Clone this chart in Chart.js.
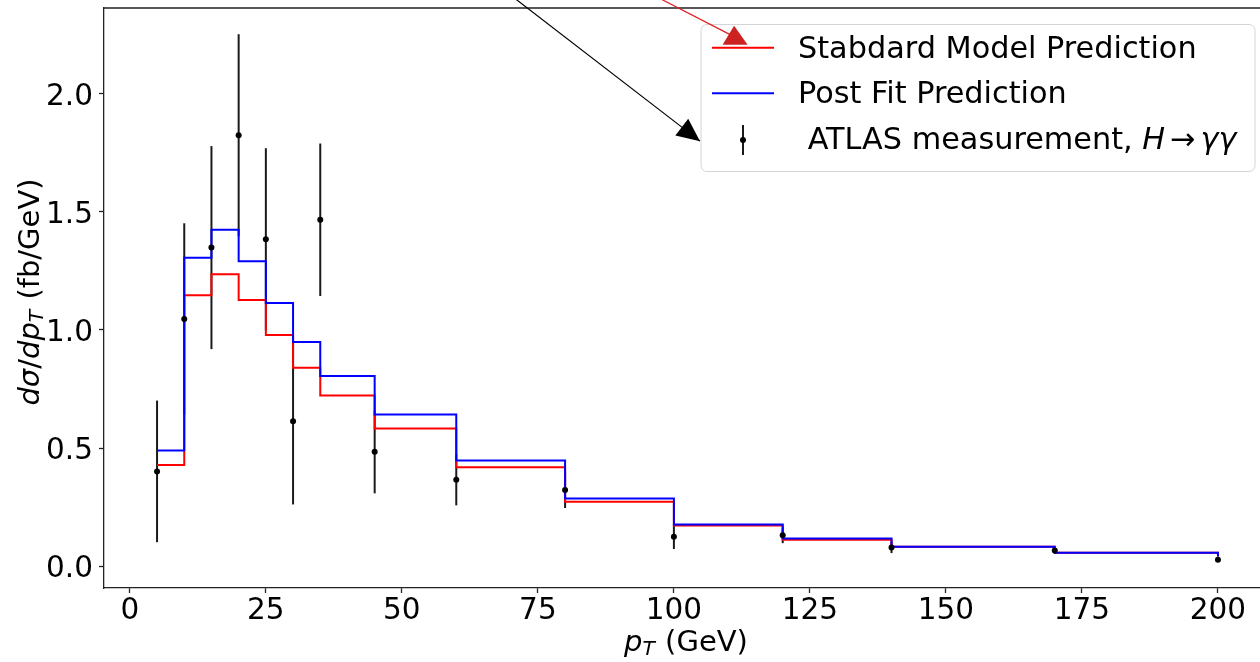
<!DOCTYPE html>
<html lang="en">
<head>
<meta charset="UTF-8">
<title>Higgs pT spectrum</title>
<script src="https://cdn.jsdelivr.net/npm/chart.js"></script>
<style>
  html, body { margin: 0; padding: 0; background: #fff; overflow: hidden; }
  #wrap { width: 1285px; height: 662px; }
</style>
</head>
<body>
<div id="wrap"><canvas id="ptChart" width="1285" height="662"></canvas></div>
<script>
// bin edges in GeV (each value holds until the next edge)
const binEdges = [5, 10, 15, 20, 25, 30, 35, 45, 60, 80, 100, 120, 140, 170, 200];
const smPrediction = [0.428, 1.147, 1.236, 1.127, 0.979, 0.840, 0.722, 0.583, 0.418, 0.272, 0.172, 0.111, 0.082, 0.056, 0.040];
const postFit      = [0.490, 1.306, 1.425, 1.291, 1.114, 0.949, 0.805, 0.642, 0.447, 0.286, 0.176, 0.117, 0.082, 0.056, 0.040];
// ATLAS H -> yy points and symmetric errors
const atlasValue = [0.401, 1.047, 1.349, 1.825, 1.384, 0.613, 1.467, 0.484, 0.366, 0.322, 0.124, 0.130, 0.079, 0.066, 0.027];
const atlasError = [0.300, 0.405, 0.430, 0.428, 0.386, 0.352, 0.323, 0.176, 0.109, 0.076, 0.052, 0.033, 0.024, 0.010, 0.008];

const xTickValues = [0, 25, 50, 75, 100, 125, 150, 175, 200];
const yTickValues = [0, 0.5, 1.0, 1.5, 2.0];
const seriesLabels = ['Stabdard Model Prediction', 'Post Fit Prediction', 'ATLAS measurement, H \u2192 \u03b3\u03b3'];

// annotation arrows in data units: [x0, y0, x1, y1]
const blackArrow = [69.9, 2.42, 104.8, 1.80];
const redArrow = [96.1, 2.42, 111.25, 2.249];

const FONT = "'DejaVu Sans', sans-serif";
Chart.defaults.font.family = FONT;
Chart.defaults.font.size = 29.5;
Chart.defaults.color = '#000';

// draw a run of plain / italic / subscript pieces (poor man's mathtext)
function richWidth(ctx, parts, size) {
  let w = 0;
  parts.forEach(p => {
    const s = p.sub ? size * 0.7 : size;
    ctx.font = (p.it ? 'italic ' : '') + s + 'px ' + FONT;
    w += ctx.measureText(p.t).width + (p.gap || 0);
  });
  return w;
}
function drawRich(ctx, parts, x, y, size) {
  parts.forEach(p => {
    const s = p.sub ? size * 0.7 : size;
    ctx.font = (p.it ? 'italic ' : '') + s + 'px ' + FONT;
    ctx.fillText(p.t, x, p.sub ? y + 4 : y);
    x += ctx.measureText(p.t).width + (p.gap || 0);
  });
}

const errorBars = {
  id: 'errorBars',
  beforeDatasetsDraw(chart) {
    const { ctx, scales: { x, y } } = chart;
    ctx.save();
    ctx.strokeStyle = '#1a1a1a';
    ctx.lineWidth = 2;
    binEdges.forEach((e, i) => {
      const px = x.getPixelForValue(e);
      ctx.beginPath();
      ctx.moveTo(px, y.getPixelForValue(atlasValue[i] - atlasError[i]));
      ctx.lineTo(px, y.getPixelForValue(atlasValue[i] + atlasError[i]));
      ctx.stroke();
    });
    ctx.restore();
  }
};

const decorations = {
  id: 'decorations',
  afterDraw(chart) {
    const { ctx, chartArea: a, scales: { x, y } } = chart;
    ctx.save();

    // top and right spines
    ctx.strokeStyle = '#222';
    ctx.lineWidth = 1.3;
    ctx.beginPath();
    ctx.moveTo(a.left, a.top); ctx.lineTo(a.right, a.top); ctx.lineTo(a.right, a.bottom);
    ctx.stroke();

    // legend box
    const lx = 701, ly = 24.5, lw = 554, lh = 147;
    ctx.beginPath();
    ctx.roundRect(lx, ly, lw, lh, 6);
    ctx.fillStyle = 'rgba(255,255,255,0.85)';
    ctx.fill();
    ctx.strokeStyle = '#d4d4d4';
    ctx.lineWidth = 1;
    ctx.stroke();

    const rows = [47.7, 93.3, 140];
    ctx.lineWidth = 2;
    ctx.strokeStyle = '#ff0000';
    ctx.beginPath(); ctx.moveTo(712, rows[0]); ctx.lineTo(774, rows[0]); ctx.stroke();
    ctx.strokeStyle = '#0000ff';
    ctx.beginPath(); ctx.moveTo(712, rows[1]); ctx.lineTo(774, rows[1]); ctx.stroke();
    ctx.strokeStyle = '#1a1a1a';
    ctx.beginPath(); ctx.moveTo(743, rows[2] - 15); ctx.lineTo(743, rows[2] + 15); ctx.stroke();
    ctx.fillStyle = '#000';
    ctx.beginPath(); ctx.arc(743, rows[2], 3, 0, Math.PI * 2); ctx.fill();

    const lf = 30.3;
    ctx.textBaseline = 'middle';
    ctx.textAlign = 'left';
    ctx.font = lf + 'px ' + FONT;
    ctx.fillText(seriesLabels[0], 798, rows[0] + 2);
    ctx.fillText(seriesLabels[1], 798, rows[1] + 2);
    drawRich(ctx, [
      { t: ' ATLAS measurement, ' },
      { t: 'H', it: true, gap: 5 },
      { t: '\u2192', gap: 5 },
      { t: '\u03b3\u03b3', it: true }
    ], 798, rows[2] + 1, lf);

    // arrows
    const bx0 = x.getPixelForValue(blackArrow[0]), by0 = y.getPixelForValue(blackArrow[1]);
    const bx1 = x.getPixelForValue(blackArrow[2]), by1 = y.getPixelForValue(blackArrow[3]);
    ctx.strokeStyle = '#000';
    ctx.lineWidth = 1.2;
    ctx.beginPath(); ctx.moveTo(bx0, by0); ctx.lineTo(bx1, by1); ctx.stroke();
    const ang = Math.atan2(by1 - by0, bx1 - bx0);
    const hl = 23, hw = 10.5;
    const cx = bx1 - hl * Math.cos(ang), cy = by1 - hl * Math.sin(ang);
    ctx.fillStyle = '#000';
    ctx.beginPath();
    ctx.moveTo(bx1, by1);
    ctx.lineTo(cx - hw * Math.sin(ang), cy + hw * Math.cos(ang));
    ctx.lineTo(cx + hw * Math.sin(ang), cy - hw * Math.cos(ang));
    ctx.closePath(); ctx.fill();

    const rx0 = x.getPixelForValue(redArrow[0]), ry0 = y.getPixelForValue(redArrow[1]);
    const rx1 = x.getPixelForValue(redArrow[2]), ry1 = y.getPixelForValue(redArrow[3]);
    ctx.strokeStyle = '#e02020';
    ctx.lineWidth = 1.2;
    ctx.beginPath(); ctx.moveTo(rx0, ry0); ctx.lineTo(rx1 - 4, ry1); ctx.stroke();
    ctx.fillStyle = '#cc2222';
    ctx.beginPath();
    ctx.moveTo(rx1 - 1, ry1 - 9.5);
    ctx.lineTo(rx1 + 12.5, ry1 + 9.5);
    ctx.lineTo(rx1 - 12.5, ry1 + 9.5);
    ctx.closePath(); ctx.fill();

    // axis titles
    const tf = 29;
    ctx.fillStyle = '#000';
    ctx.textBaseline = 'alphabetic';
    const xt = [{ t: 'p', it: true }, { t: 'T', it: true, sub: true, gap: 1 }, { t: ' (GeV)' }];
    drawRich(ctx, xt, 686 - richWidth(ctx, xt, tf) / 2, 651, tf);

    const yt = [{ t: 'd\u03c3', it: true }, { t: '/' }, { t: 'dp', it: true },
                { t: 'T', it: true, sub: true, gap: 1 }, { t: ' (fb/GeV)' }];
    ctx.translate(38.5, 292);
    ctx.rotate(-Math.PI / 2);
    drawRich(ctx, yt, -richWidth(ctx, yt, tf) / 2, 0, tf);
    ctx.restore();
  }
};

const ctx = document.getElementById('ptChart').getContext('2d');
const chart = new Chart(ctx, {
  type: 'line',
  data: {
    datasets: [
      {
        label: seriesLabels[0],
        data: binEdges.map((e, i) => ({ x: e, y: smPrediction[i] })),
        borderColor: '#ff0000',
        borderWidth: 2,
        stepped: 'before',
        pointRadius: 0,
        fill: false,
        order: 3
      },
      {
        label: seriesLabels[1],
        data: binEdges.map((e, i) => ({ x: e, y: postFit[i] })),
        borderColor: '#0000ff',
        borderWidth: 2,
        stepped: 'before',
        pointRadius: 0,
        fill: false,
        order: 2
      },
      {
        type: 'scatter',
        label: seriesLabels[2],
        data: binEdges.map((e, i) => ({ x: e, y: atlasValue[i] })),
        backgroundColor: '#000',
        borderWidth: 0,
        pointRadius: 3,
        order: 1
      }
    ]
  },
  options: {
    responsive: false,
    animation: false,
    devicePixelRatio: 1,
    layout: { padding: { top: 8, right: 14, left: 0, bottom: 0 } },
    plugins: { legend: { display: false }, tooltip: { enabled: false } },
    scales: {
      x: {
        type: 'linear',
        min: -4.75,
        max: 209.75,
        afterBuildTicks: s => { s.ticks = xTickValues.map(v => ({ value: v })); },
        afterFit: s => { s.height = 74; s.paddingLeft = 0; s.paddingRight = 0; },
        grid: { drawOnChartArea: false, tickLength: 5, tickColor: '#222', tickWidth: 1.3 },
        border: { color: '#222', width: 1.3 },
        ticks: { padding: 4, font: { size: 29.5, lineHeight: 1 }, maxRotation: 0, autoSkip: false, callback: v => String(v) }
      },
      y: {
        type: 'linear',
        min: -0.093,
        max: 2.364,
        afterBuildTicks: s => { s.ticks = yTickValues.map(v => ({ value: v })); },
        afterFit: s => { s.width = 104; s.paddingTop = 0; s.paddingBottom = 0; },
        grid: { drawOnChartArea: false, tickLength: 5, tickColor: '#222', tickWidth: 1.3 },
        border: { color: '#222', width: 1.3 },
        ticks: { padding: 6, labelOffset: 3, font: { size: 29.5, lineHeight: 1 }, callback: v => v.toFixed(1) }
      }
    }
  },
  plugins: [errorBars, decorations]
});
</script>
</body>
</html>
